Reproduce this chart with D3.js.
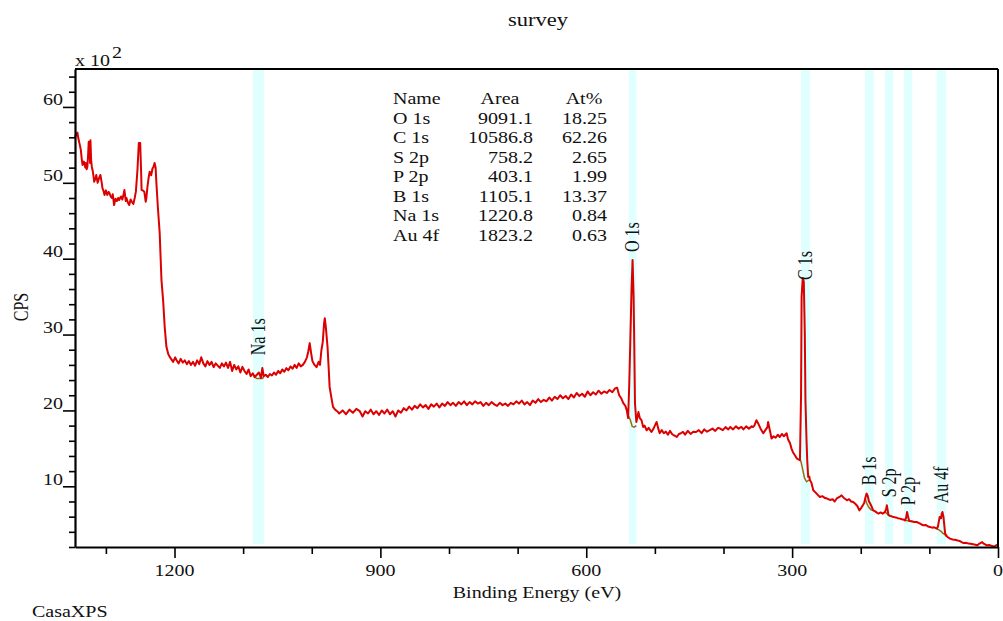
<!DOCTYPE html>
<html><head><meta charset="utf-8">
<script src="https://cdn.jsdelivr.net/npm/d3@7"></script>
<style>
html,body{margin:0;padding:0;background:#fff;}
svg{display:block;}
text{font-family:"Liberation Serif","Times New Roman",serif;fill:#111;}
</style></head>
<body><svg id="chart" width="1003" height="621"></svg>
<script>
// ---------- data ----------
const titleText = "survey";
const xTicks = [0,100,200,300,400,500,600,700,800,900,1000,1100,1200,1300];
const xTickLabels = {0:"0",300:"300",600:"600",900:"900",1200:"1200"};
const yTicks = [200,400,600,800,1000,1200,1400,1600,1800,2000,2200,2400,2600,2800,3000,3200,3400,3600,3800,4000,4200,4400,4600,4800,5000,5200,5400,5600,5800,6000,6200,6400];
const yTickLabels = {1000:"10",2000:"20",3000:"30",4000:"40",5000:"50",6000:"60"};

const tableNames = ["O 1s","C 1s","S 2p","P 2p","B 1s","Na 1s","Au 4f"];
const tableAreas = ["9091.1","10586.8","758.2","403.1","1105.1","1220.8","1823.2"];
const tableAtPct = ["18.25","62.26","2.65","1.99","13.37","0.84","0.63"];

// regions: name, high eV, low eV, label bottom (CPS)
const regionNames = ["Na 1s","O 1s","C 1s","B 1s","S 2p","P 2p","Au 4f"];
const regionHi    = [1085.7, 538.0, 287.1, 193.8, 164.7, 137.0, 89.3];
const regionLo    = [1069.7, 526.8, 274.0, 181.1, 152.6, 124.9, 75.8];
const regionLabelAt = [2728, 4087, 3720, 1013, 855, 749, 775];

// survey spectrum [binding energy eV, CPS]
const spectrum = [
[1345,5600],[1343,5640],[1341.5,5661],[1340,5580],[1338,5500],[1336.5,5433],[1335,5300],[1334,5235],[1332,5280],[1330,5200],
[1329,5261],[1328,5180],[1327,5208],[1326,5350],[1325,5542],[1324,5480],[1323,5260],[1322.5,5560],[1321.5,5300],[1320.5,5212],
[1319,5150],[1318,5080],[1317,5014],[1315,5060],[1314,5103],[1312,5000],[1310,5060],[1308,5103],[1306,5000],[1305,4931],
[1303,4880],[1302,4839],[1300,4900],[1298,4840],[1296,4880],[1295,4866],[1293,4820],[1291,4800],[1290,4850],[1288,4707],
[1286,4790],[1284,4760],[1282,4800],[1280.6,4773],[1278,4820],[1276,4780],[1274,4860],[1273,4905],[1271,4760],[1270,4800],
[1268,4740],[1266,4707],[1264,4780],[1262,4747],[1260,4720],[1258,4800],[1256.3,4883],[1254,5169],[1252,5525],[1250,5525],
[1248.5,5100],[1248,4905],[1246,4900],[1244,4883],[1242,4751],[1241,4800],[1239.4,4949],[1238,5050],[1236.2,5147],[1234,5100],
[1232,5191],[1231,5200],[1229,5261],[1227.5,5200],[1226.5,5015],[1224.3,4685],[1221.6,4338],[1219,3718],[1216.6,3454],[1214.3,3102],
[1211.8,2838],[1209,2740],[1207,2706],[1205,2680],[1202,2640],[1199,2700],[1197,2662],[1194,2620],[1191,2680],[1188,2630],
[1185,2660],[1182,2610],[1179,2650],[1176,2600],[1173,2640],[1170,2590],[1167,2660],[1164,2610],[1161,2700],[1158,2620],
[1155,2580],[1152,2650],[1149,2600],[1146,2640],[1143,2570],[1140,2620],[1137,2590],[1134,2560],[1131,2620],[1128,2580],
[1125,2630],[1122,2560],[1119,2640],[1116,2520],[1113,2600],[1110,2540],[1107,2580],[1104,2500],[1101,2574],[1098,2520],
[1095,2480],[1092,2540],[1089,2450],[1086,2490],[1083,2440],[1080,2470],[1077,2500],[1074,2430],[1072,2560],[1070,2450],
[1067,2470],[1064,2440],[1061,2480],[1058,2460],[1055,2500],[1052,2470],[1049,2520],[1046,2490],[1043,2540],[1040,2510],
[1037,2557],[1034,2530],[1031,2580],[1028,2550],[1025,2600],[1022,2560],[1019,2620],[1016,2580],[1013,2600],[1010,2640],
[1007,2700],[1005,2780],[1003,2887],[1001,2760],[999,2650],[996,2600],[993,2570],[990,2640],[988,2600],[986,2790],
[984,2900],[982,3150],[981,3216],[979.5,3100],[977,2838],[975,2500],[974,2310],[971,2150],[969,2046],[966,2010],
[963,1990],[960,1960],[955,2000],[950,1950],[945,2010],[940,1970],[935,2020],[930,1990],[926,1920],[922,1990],
[918,1960],[914,2010],[910,1950],[906,1990],[902,1940],[898,2000],[894,1960],[890,2010],[886,1950],[882,1990],
[878,1920],[874,2000],[870,1970],[866,2030],[862,2000],[858,2050],[854,2010],[850,2060],[846,2030],[842,2080],
[838,2040],[834,2070],[830,2020],[826,2080],[822,2050],[818,2090],[814,2040],[810,2090],[806,2060],[802,2110],
[798,2070],[794,2100],[790,2060],[786,2110],[782,2080],[778,2120],[774,2070],[770,2110],[766,2080],[762,2120],
[758,2090],[754,2110],[750,2060],[746,2100],[742,2070],[738,2110],[734,2080],[730,2060],[726,2100],[722,2070],
[718,2090],[714,2060],[710,2100],[706,2080],[702,2120],[698,2090],[694,2130],[690,2080],[686,2110],[682,2070],
[678,2130],[674,2100],[670,2150],[666,2110],[662,2140],[658,2120],[654,2170],[650,2130],[646,2180],[642,2150],
[638,2200],[634,2160],[630,2190],[626,2150],[622,2210],[618,2170],[614,2230],[610,2190],[606,2220],[602,2180],
[598,2250],[594,2200],[590,2240],[586,2210],[582,2260],[578,2220],[574,2250],[570,2230],[566,2270],[562,2240],
[558,2290],[555,2300],[552,2200],[549,2160],[546,2095],[543,2060],[541,2003],[539,1900],[537.5,2300],[536,2838],
[534,3600],[532.5,3982],[531,3500],[530,2838],[529,2095],[527,1848],[525,1930],[524,1980],[522,1900],[519.5,1871],
[517,1782],[515,1800],[512,1739],[509,1770],[505,1716],[502,1760],[499,1820],[497.5,1848],[495,1760],[493,1699],
[490,1740],[487,1700],[484,1720],[481,1680],[478,1730],[475,1690],[472,1670],[468,1650],[465,1690],[462,1700],
[459,1716],[456,1680],[452,1730],[448,1690],[444,1720],[440,1716],[436,1740],[432,1700],[428,1750],[424,1720],
[420,1739],[416,1760],[412,1730],[408,1770],[405,1761],[401,1740],[397,1780],[393,1750],[390,1782],[386,1750],
[382,1790],[378,1760],[374,1782],[371,1750],[367,1790],[363,1760],[359,1790],[357,1782],[355,1800],[352,1871],
[349,1820],[346,1760],[342,1699],[339,1740],[336,1780],[335,1848],[332,1720],[330,1629],[327,1660],[324,1640],
[321,1680],[318,1650],[315,1690],[312,1660],[308,1699],[306,1620],[303,1567],[301,1500],[299,1453],[296,1410],
[293.4,1369],[290,1350],[288.6,1343],[287,2200],[286.2,3497],[284.5,3744],[283,3700],[281.5,3000],[280.6,2135],[279,1600],
[278,1343],[276.6,1123],[275,1130],[274,1079],[272,1050],[269.2,947],[266,920],[263,890],[259.5,859],[256,870],
[252,845],[249,838],[245,820],[241,830],[238,800],[235,840],[231,860],[228,881],[225,850],[222,830],
[220,815],[217,830],[214,800],[211,793],[208,770],[205,740],[202,683],[199,720],[197,749],[195,780],
[193,860],[191.5,904],[190,880],[188,800],[186.5,776],[184,730],[182,683],[179,670],[176,650],[174,640],
[171,655],[168,640],[165,660],[163,700],[162,749],[161,700],[159.5,617],[157,610],[154,600],[152,595],
[149,590],[146,580],[143,574],[140,565],[137,560],[135.5,551],[134,580],[132.5,661],[131,600],[129.3,542],
[126,540],[122,530],[118.5,529],[115,515],[112,500],[109,486],[105,490],[102,470],[99,463],[96,455],
[93,460],[89,442],[87.5,470],[86.5,525],[85,595],[84,580],[83,578],[82,640],[81,661],[79.5,600],
[78.5,508],[77,376],[74,335],[70,310],[66,300],[63,295],[60,288],[56,280],[53,265],[50,252],
[46,255],[43,245],[40,244],[36,235],[33,230],[30,222],[27,245],[25,255],[23,265],[21,245],
[18,230],[16,222],[12,225],[9,215],[7,208],[4,215],[2,225],[0,235]
];

// backgrounds under each region [eV, CPS]
const bgNa = [[1085,2450],[1080,2420],[1072,2420],[1070,2440]];
const bgO  = [[538.5,1930],[536,1880],[533,1790],[530,1780],[527,1800]];
const bgC  = [[287.5,1340],[285,1240],[282,1110],[279,1060],[276,1080],[274,1079]];
const bgB  = [[193.5,840],[191,770],[188,720],[185,690],[182,683]];
const bgS  = [[164.5,665],[162,640],[159,620],[156,605],[153,598]];
const bgP  = [[136.5,558],[134,550],[131,545],[128,540],[125,535]];
const bgAu = [[89,440],[86,425],[83,405],[80,380],[77,360],[76,340]];
const backgrounds = [bgNa,bgO,bgC,bgB,bgS,bgP,bgAu];

// ---------- drawing ----------
const svg = d3.select("#chart");
const SX = 1.25; // horizontal stretch of the original raster text
const plotL = 75, plotR = 998, plotT = 69, plotB = 547;
const x = d3.scaleLinear().domain([1345,0]).range([plotL,plotR]);
const y = d3.scaleLinear().domain([200,6500]).range([plotB,plotT]);

function txt(g, str, px, py, size, anchor){
  return g.append("text").attr("transform",`translate(${px},${py}) scale(${SX},1)`)
    .attr("text-anchor",anchor||"start").attr("font-size",size).text(str);
}

// bands
const bands = svg.append("g");
regionNames.forEach((n,i)=>{
  bands.append("rect")
    .attr("x", x(regionHi[i])).attr("width", x(regionLo[i]) - x(regionHi[i]))
    .attr("y", plotT+1).attr("height", plotB-3-(plotT+1))
    .attr("fill","#e0ffff");
});

// backgrounds
const line = d3.line().x(d=>x(d[0])).y(d=>y(d[1]));
backgrounds.forEach(b=>{
  svg.append("path").attr("d",line(b)).attr("fill","none").attr("stroke","#9a6a10").attr("stroke-width",1.5);
});

// spectrum
svg.append("path").attr("d",line(spectrum)).attr("fill","none")
  .attr("stroke","#dc0000").attr("stroke-width",2).attr("stroke-linejoin","round");

// region labels
regionNames.forEach((n,i)=>{
  const cx = (x(regionHi[i])+x(regionLo[i]))/2;
  svg.append("text")
    .attr("transform",`translate(${cx},${y(regionLabelAt[i])}) rotate(-90) scale(1,${SX})`)
    .attr("dy","0.33em").attr("font-size",16).text(n);
});

// frame
svg.append("line").attr("x1",plotL).attr("x2",plotR).attr("y1",plotT).attr("y2",plotT).attr("stroke","#000").attr("stroke-width",2);
svg.append("line").attr("x1",plotR).attr("x2",plotR).attr("y1",plotT).attr("y2",plotB).attr("stroke","#000").attr("stroke-width",2);

// x axis
const xAxis = d3.axisBottom(x).tickValues(xTicks).tickSizeOuter(0)
  .tickSize(0).tickFormat("");
const gx = svg.append("g").attr("transform",`translate(0,${plotB})`).call(xAxis);
gx.select(".domain").attr("stroke","#000").attr("stroke-width",2.2);
gx.selectAll(".tick line")
  .attr("y2", d=> xTickLabels[d]!==undefined ? 11 : 7)
  .attr("stroke","#000").attr("stroke-width",1.6);
xTicks.filter(d=>xTickLabels[d]!==undefined).forEach(d=>{
  txt(svg, xTickLabels[d], x(d), 576, 16, "middle");
});

// y axis
const yAxis = d3.axisLeft(y).tickValues(yTicks).tickSizeOuter(0).tickSize(0).tickFormat("");
const gy = svg.append("g").attr("transform",`translate(${plotL},0)`).call(yAxis);
gy.select(".domain").attr("stroke","#000").attr("stroke-width",2.2);
gy.selectAll(".tick line")
  .attr("x2", d=> yTickLabels[d]!==undefined ? -12 : -6)
  .attr("stroke","#000").attr("stroke-width",1.6);
yTicks.filter(d=>yTickLabels[d]!==undefined).forEach(d=>{
  txt(svg, yTickLabels[d], 63, y(d)-1.5, 16, "end");
});

// titles
txt(svg, titleText, 538, 26, 18, "middle");
txt(svg, "x 10", 75, 66, 16, "start");
txt(svg, "2", 112, 58, 16, "start");
txt(svg, "Binding Energy (eV)", 537, 598, 16, "middle");
txt(svg, "CasaXPS", 32, 617, 16, "start");
svg.append("text").attr("transform",`translate(21,307) rotate(-90) scale(1,${SX})`)
  .attr("text-anchor","middle").attr("dy","0.35em").attr("font-size",16).text("CPS");

// quantification table
const tb = svg.append("g");
const rowY0 = 104, rowH = 19.5;
txt(tb, "Name", 393, rowY0, 16, "start");
txt(tb, "Area", 500, rowY0, 16, "middle");
txt(tb, "At%", 584, rowY0, 16, "middle");
tableNames.forEach((n,i)=>{
  const ry = rowY0 + (i+1)*rowH;
  txt(tb, n, 393, ry, 16, "start");
  txt(tb, tableAreas[i], 533, ry, 16, "end");
  txt(tb, tableAtPct[i], 607, ry, 16, "end");
});
</script></body></html>
